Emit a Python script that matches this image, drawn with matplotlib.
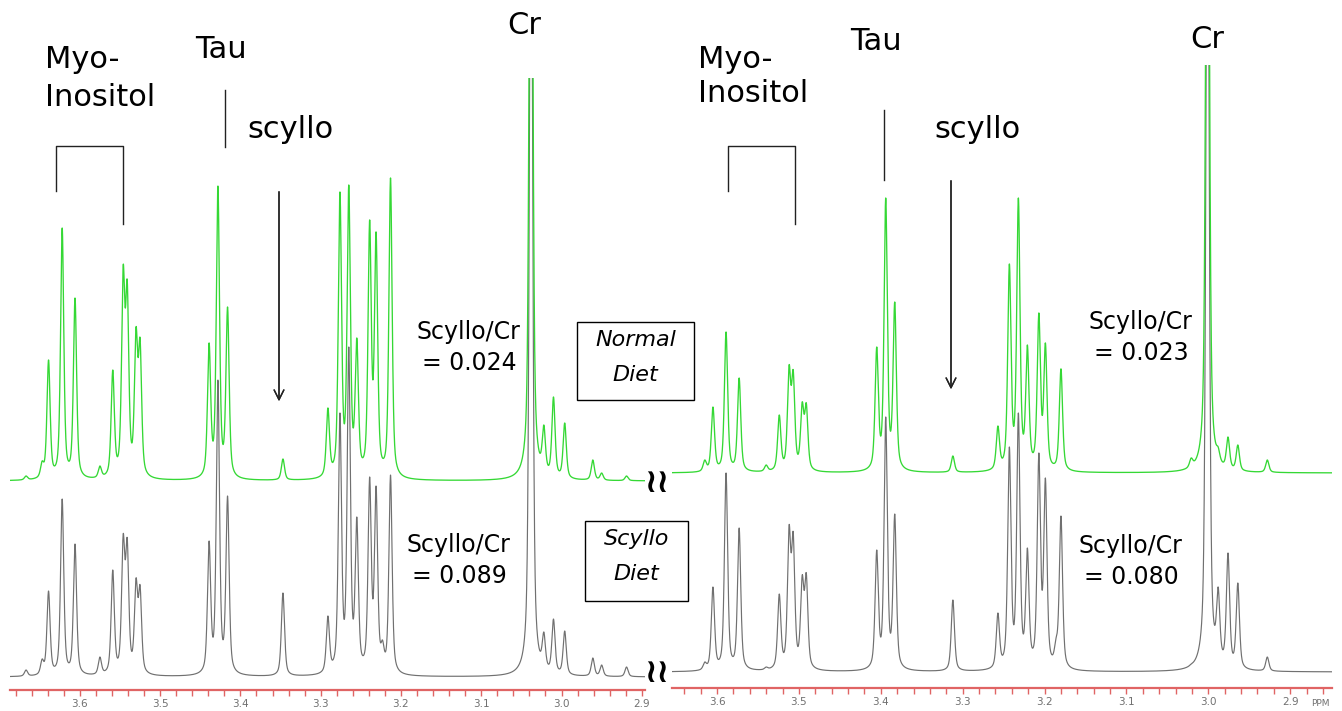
import numpy as np
import matplotlib
matplotlib.use("Agg")
import matplotlib.pyplot as plt
from matplotlib.lines import Line2D
from matplotlib.patches import Rectangle

W, H = 1342, 711

# peak positions (ppm) and peak heights
left_ppm = [3.667, 3.647, 3.639, 3.622, 3.606, 3.575, 3.559, 3.546, 3.541, 3.530,
            3.525, 3.439, 3.428, 3.416, 3.347, 3.291, 3.276, 3.265, 3.255, 3.239,
            3.231, 3.223, 3.213, 3.038, 3.022, 3.010, 2.996, 2.961, 2.950, 2.919]
left_normal = [5, 20, 121, 253, 183, 15, 111, 216, 201, 154,
               143, 138, 295, 174, 22, 73, 289, 296, 143, 261,
               249, 20, 303, 900, 56, 84, 58, 21, 8, 5]
left_scyllo = [7, 18, 86, 178, 133, 20, 107, 143, 139, 99,
               92, 136, 297, 181, 84, 61, 264, 330, 160, 200,
               191, 37, 202, 900, 45, 58, 46, 19, 12, 10]

right_ppm = [3.615, 3.605, 3.589, 3.573, 3.540, 3.524, 3.512, 3.507, 3.496, 3.491,
             3.405, 3.394, 3.383, 3.312, 3.257, 3.243, 3.232, 3.221, 3.207, 3.199,
             3.186, 3.180, 3.021, 3.001, 2.988, 2.976, 2.964, 2.928]
right_normal = [13, 66, 141, 95, 8, 58, 108, 103, 71, 70,
                126, 275, 171, 17, 47, 209, 275, 128, 160, 130,
                10, 104, 15, 900, 26, 36, 28, 13]
right_scyllo = [10, 85, 199, 144, 5, 78, 147, 140, 97, 99,
                122, 255, 158, 72, 59, 225, 259, 124, 219, 194,
                34, 156, 8, 900, 85, 119, 89, 15]

major_ticks = [3.6, 3.5, 3.4, 3.3, 3.2, 3.1, 3.0, 2.9]
ratio_labels = {"left_normal": "0.024", "left_scyllo": "0.089",
                "right_normal": "0.023", "right_scyllo": "0.080"}

GREEN = "#35d835"
GRAY = "#707070"
RED = "#e06464"


def fx(x):
    return x / W


def fy(y):
    return 1 - y / H


def lineshape(d, fwhm=0.0047, eta=0.55):
    g = np.exp(-4 * np.log(2) * (d / fwhm) ** 2)
    l = 1 / (1 + 4 * (d / fwhm) ** 2)
    return eta * l + (1 - eta) * g


def spectrum(x, centers, heights):
    c = np.asarray(centers)
    t = np.asarray(heights, float)
    A = lineshape(c[:, None] - c[None, :])
    amp = np.clip(np.linalg.solve(A, t), 0, None)
    return lineshape(x[:, None] - c[None, :]) @ amp


def draw_panel(fig, px, xlim, ppm, normal, scyllo, base_normal, base_scyllo):
    x0, y0, x1, y1 = px
    ax = fig.add_axes([fx(x0), fy(y1), (x1 - x0) / W, (y1 - y0) / H])
    xs = np.linspace(xlim[0], xlim[1], 9000)
    ax.plot(xs, base_scyllo + spectrum(xs, ppm, scyllo), color=GRAY, lw=0.85, zorder=2)
    ax.plot(xs, base_normal + spectrum(xs, ppm, normal), color=GREEN, lw=0.95, zorder=3)
    ax.set_xlim(xlim)
    ax.set_ylim(0, y1 - y0)
    for s in ["top", "left", "right"]:
        ax.spines[s].set_visible(False)
    ax.spines["bottom"].set_color(RED)
    ax.spines["bottom"].set_linewidth(1.6)
    ax.set_yticks([])
    ax.set_xticks(major_ticks)
    ax.set_xticklabels([f"{t:.1f}" for t in major_ticks])
    lo, hi = sorted(xlim)
    ax.set_xticks(np.arange(np.ceil(lo / 0.02) * 0.02, hi, 0.02), minor=True)
    ax.tick_params(axis="x", which="both", direction="out", length=4.5, width=1,
                   color=RED, labelcolor="#707070", labelsize=7.5, pad=2)
    ax.patch.set_alpha(0)
    return ax


fig = plt.figure(figsize=(W / 100, H / 100), dpi=100)

draw_panel(fig, (10, 78, 645, 690), (3.687, 2.896), left_ppm, left_normal, left_scyllo, 209, 13)
draw_panel(fig, (672, 65, 1332, 688), (3.655, 2.849), right_ppm, right_normal, right_scyllo, 215, 16)

fig.text(fx(1320), fy(703), "PPM", fontsize=6.5, color="#707070", ha="center", va="center")


def label(x, y, s, size=22, **kw):
    fig.text(fx(x), fy(y), s, fontsize=size, ha="left", va="center", **kw)


def seg(xs, ys, lw=1.0):
    fig.add_artist(Line2D([fx(v) for v in xs], [fy(v) for v in ys],
                          transform=fig.transFigure, color="#222222", lw=lw))


def arrow(x, ytop, ybot):
    fig.add_artist(plt.annotate("", xy=(fx(x), fy(ybot)), xytext=(fx(x), fy(ytop)),
                                xycoords="figure fraction", textcoords="figure fraction",
                                arrowprops=dict(arrowstyle="->,head_length=0.7,head_width=0.35",
                                                color="#222222", lw=1.0)))


# left panel annotations
label(45, 60, "Myo-")
label(45, 97, "Inositol")
label(195, 50, "Tau")
label(247, 130, "scyllo")
label(507, 26, "Cr")
seg([56, 56, 123, 123], [191, 146, 146, 224])
seg([225, 225], [90, 147])
arrow(279, 189, 404)

# right panel annotations
label(698, 60, "Myo-")
label(698, 93, "Inositol")
label(850, 42, "Tau")
label(934, 130, "scyllo")
label(1190, 40, "Cr")
seg([728, 728, 795, 795], [191, 146, 146, 224])
seg([884, 884], [110, 180])
arrow(951, 178, 392)

# ratio texts
for (x, y), key in [((416, 332), "left_normal"), ((406, 545), "left_scyllo"),
                    ((1088, 322), "right_normal"), ((1078, 546), "right_scyllo")]:
    label(x, y, "Scyllo/Cr", size=17)
    label(x + 6, y + 31, "= " + ratio_labels[key], size=17)

# diet boxes
for (x0, y0, x1, y1), lines in [((577, 322, 694, 400), ("Normal", "Diet")),
                                ((585, 521, 688, 601), ("Scyllo", "Diet"))]:
    fig.add_artist(Rectangle((fx(x0), fy(y1)), (x1 - x0) / W, (y1 - y0) / H,
                             transform=fig.transFigure, fill=False, ec="black", lw=1.0))
    cx = (x0 + x1) / 2
    fig.text(fx(cx), fy(y0 + 18), lines[0], fontsize=16, style="italic", ha="center", va="center")
    fig.text(fx(cx), fy(y0 + 53), lines[1], fontsize=16, style="italic", ha="center", va="center")

# axis break marks
for y in (482, 672):
    fig.text(fx(657), fy(y), "≀≀", fontsize=24, fontweight="bold", ha="center", va="center")

fig.savefig("out.png", dpi=100)
